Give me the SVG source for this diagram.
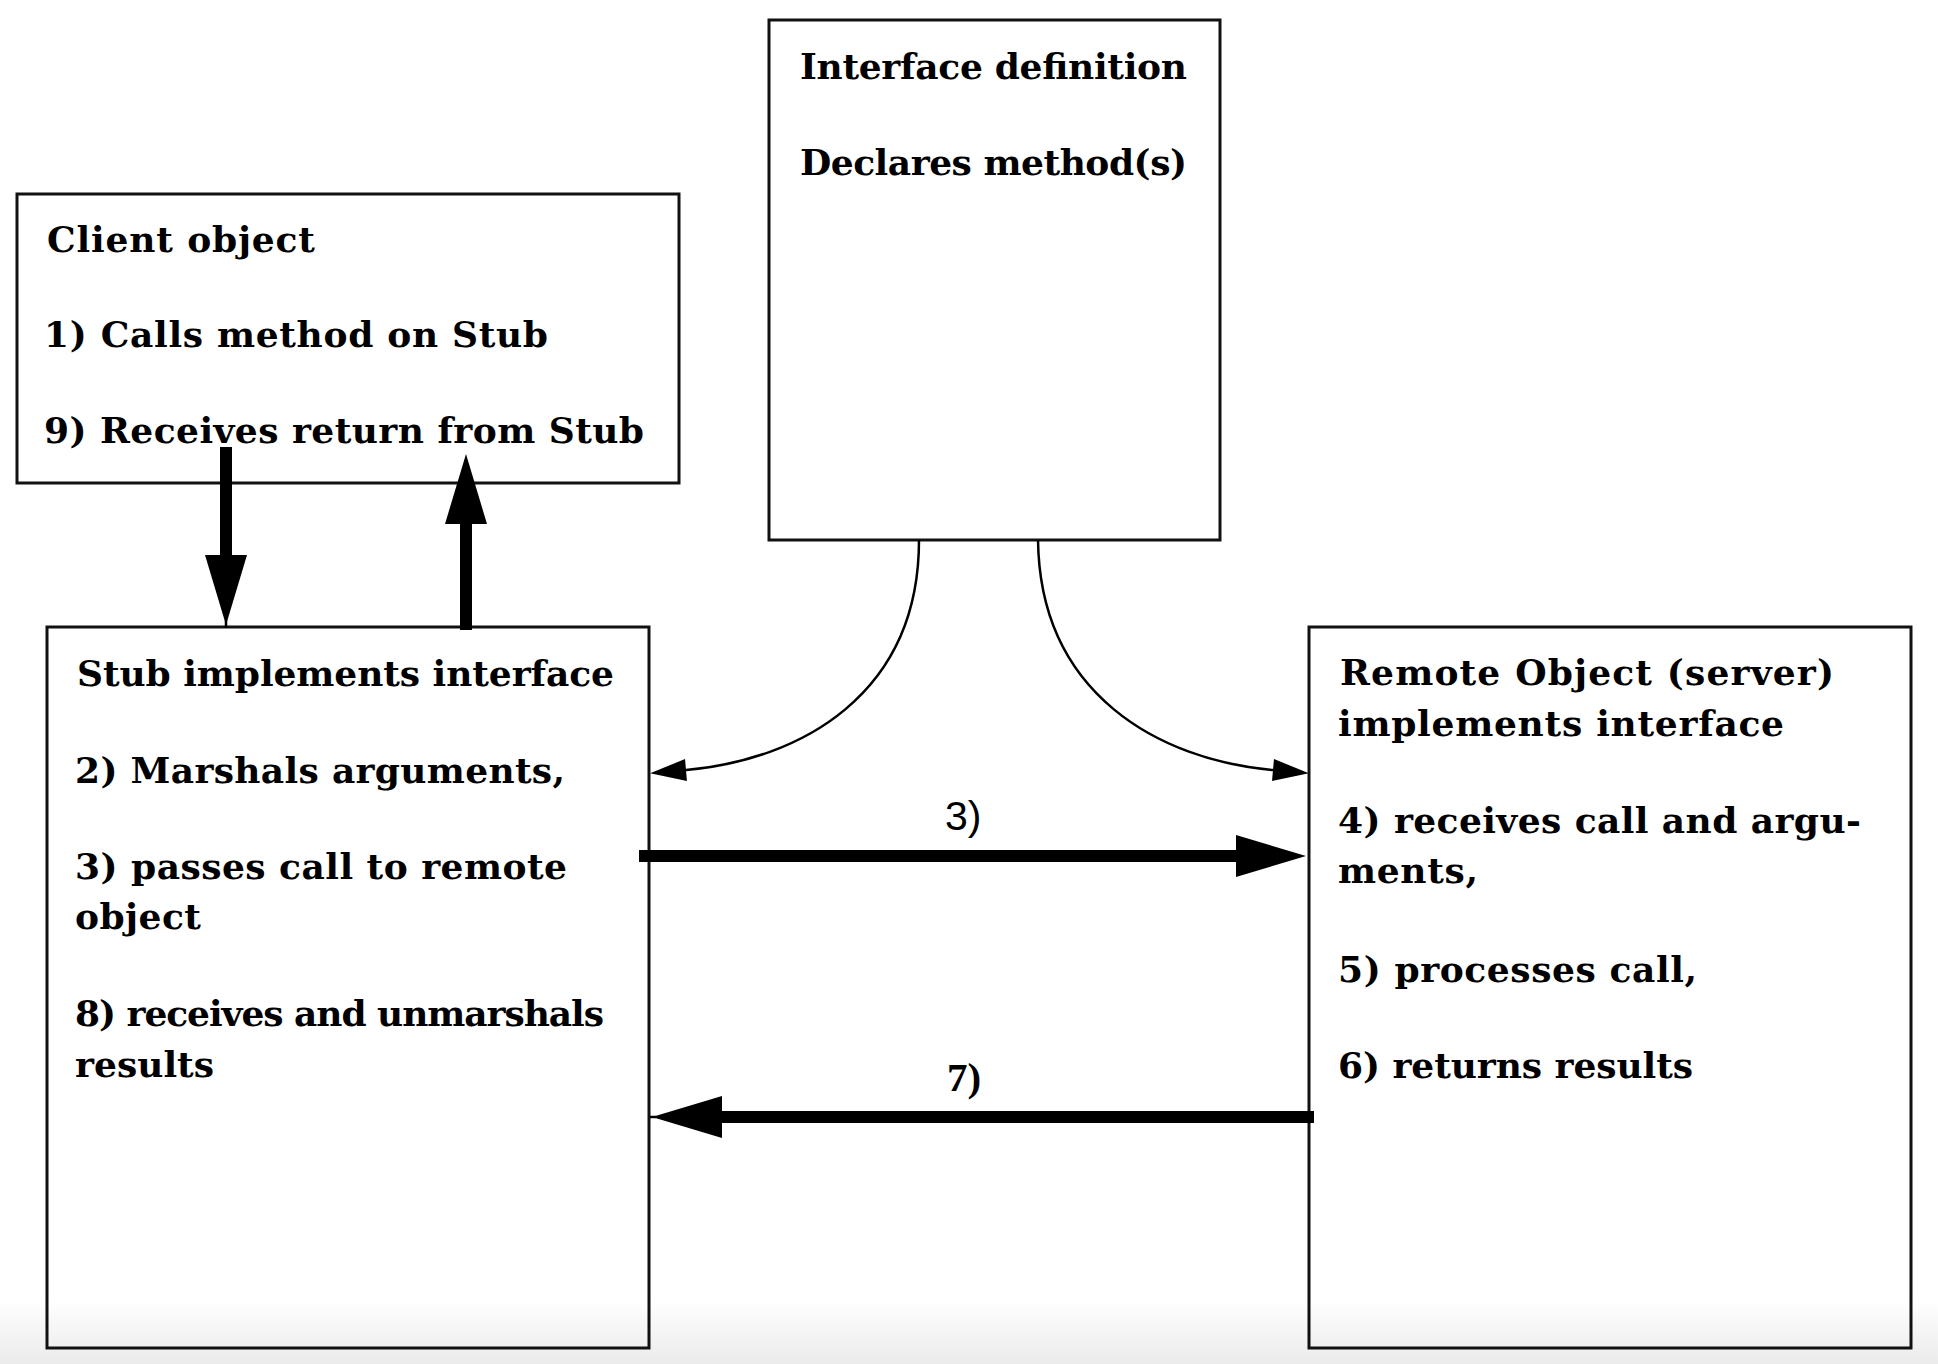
<svg xmlns="http://www.w3.org/2000/svg" width="1938" height="1364" viewBox="0 0 1938 1364">
<style>
.box{fill:none;stroke:#111;stroke-width:3}
.t{font-family:"DejaVu Serif","Liberation Serif",serif;font-weight:bold;font-size:36px;fill:#000}
.thick{stroke:#000;stroke-width:12;fill:none}
.thin{stroke:#000;stroke-width:2.5;fill:none}
.lbl3{font-family:"Liberation Sans",Arial,sans-serif;font-size:41px;fill:#000}
.lbl7{font-family:"Liberation Serif","DejaVu Serif",serif;font-weight:bold;font-size:41px;fill:#000}
</style>
<defs>
<linearGradient id="bg" x1="0" y1="0" x2="0" y2="1">
<stop offset="0" stop-color="#ffffff"/>
<stop offset="1" stop-color="#ebebeb"/>
</linearGradient>
<marker id="big" markerUnits="userSpaceOnUse" markerWidth="72" markerHeight="44" refX="0" refY="22" orient="auto" overflow="visible">
<path d="M0,1 L70,22 L0,43 z" fill="#000"/>
</marker>
<marker id="small" markerUnits="userSpaceOnUse" markerWidth="38" markerHeight="26" refX="0" refY="13" orient="auto" overflow="visible">
<path d="M0,2 L36,13 L0,24 z" fill="#000"/>
</marker>
</defs>
<rect x="0" y="0" width="1938" height="1364" fill="#fff"/>
<rect x="0" y="1300" width="1938" height="64" fill="url(#bg)"/>

<g id="interface">
<rect class="box" x="769" y="20" width="451" height="520"/>
<text class="t" x="800" y="79" textLength="387">Interface definition</text>
<text class="t" x="800" y="175" textLength="387">Declares method(s)</text>
</g>

<g id="client">
<rect class="box" x="17" y="194" width="662" height="289"/>
<text class="t" x="47" y="252" textLength="268">Client object</text>
<text class="t" x="44" y="347" textLength="504">1) Calls method on Stub</text>
<text class="t" x="44" y="443" textLength="600">9) Receives return from Stub</text>
</g>

<g id="stub">
<rect class="box" x="47" y="627" width="602" height="721"/>
<text class="t" x="77" y="686" textLength="537">Stub implements interface</text>
<text class="t" x="75" y="783" textLength="490">2) Marshals arguments,</text>
<text class="t" x="75" y="879" textLength="492">3) passes call to remote</text>
<text class="t" x="75" y="929" textLength="126">object</text>
<text class="t" x="75" y="1026" textLength="529">8) receives and unmarshals</text>
<text class="t" x="75" y="1077" textLength="139">results</text>
</g>

<g id="remote">
<rect class="box" x="1309" y="627" width="602" height="721"/>
<text class="t" x="1340" y="685" textLength="494">Remote Object (server)</text>
<text class="t" x="1338" y="736" textLength="446">implements interface</text>
<text class="t" x="1338" y="833" textLength="523">4) receives call and argu-</text>
<text class="t" x="1338" y="883" textLength="140">ments,</text>
<text class="t" x="1338" y="982" textLength="359">5) processes call,</text>
<text class="t" x="1338" y="1078" textLength="355">6) returns results</text>
</g>

<g id="connectors">
<line class="thick" x1="226" y1="447" x2="226" y2="555" marker-end="url(#big)"/>
<line class="thin" x1="226" y1="620" x2="226" y2="628"/>
<line class="thick" x1="466" y1="630" x2="466" y2="524" marker-end="url(#big)"/>
<line class="thick" x1="639" y1="856" x2="1236" y2="856" marker-end="url(#big)"/>
<line class="thick" x1="1314" y1="1117" x2="722" y2="1117" marker-end="url(#big)"/>
<line class="thin" x1="650" y1="1117" x2="656" y2="1117"/>
<path class="thin" d="M919,540 C919,695 800,760 686,770" marker-end="url(#small)"/>
<path class="thin" d="M1038,540 C1040,695 1160,760 1273,770" marker-end="url(#small)"/>
<text class="lbl3" x="945" y="830">3)</text>
<text class="lbl7" x="947" y="1091">7)</text>
</g>
</svg>
